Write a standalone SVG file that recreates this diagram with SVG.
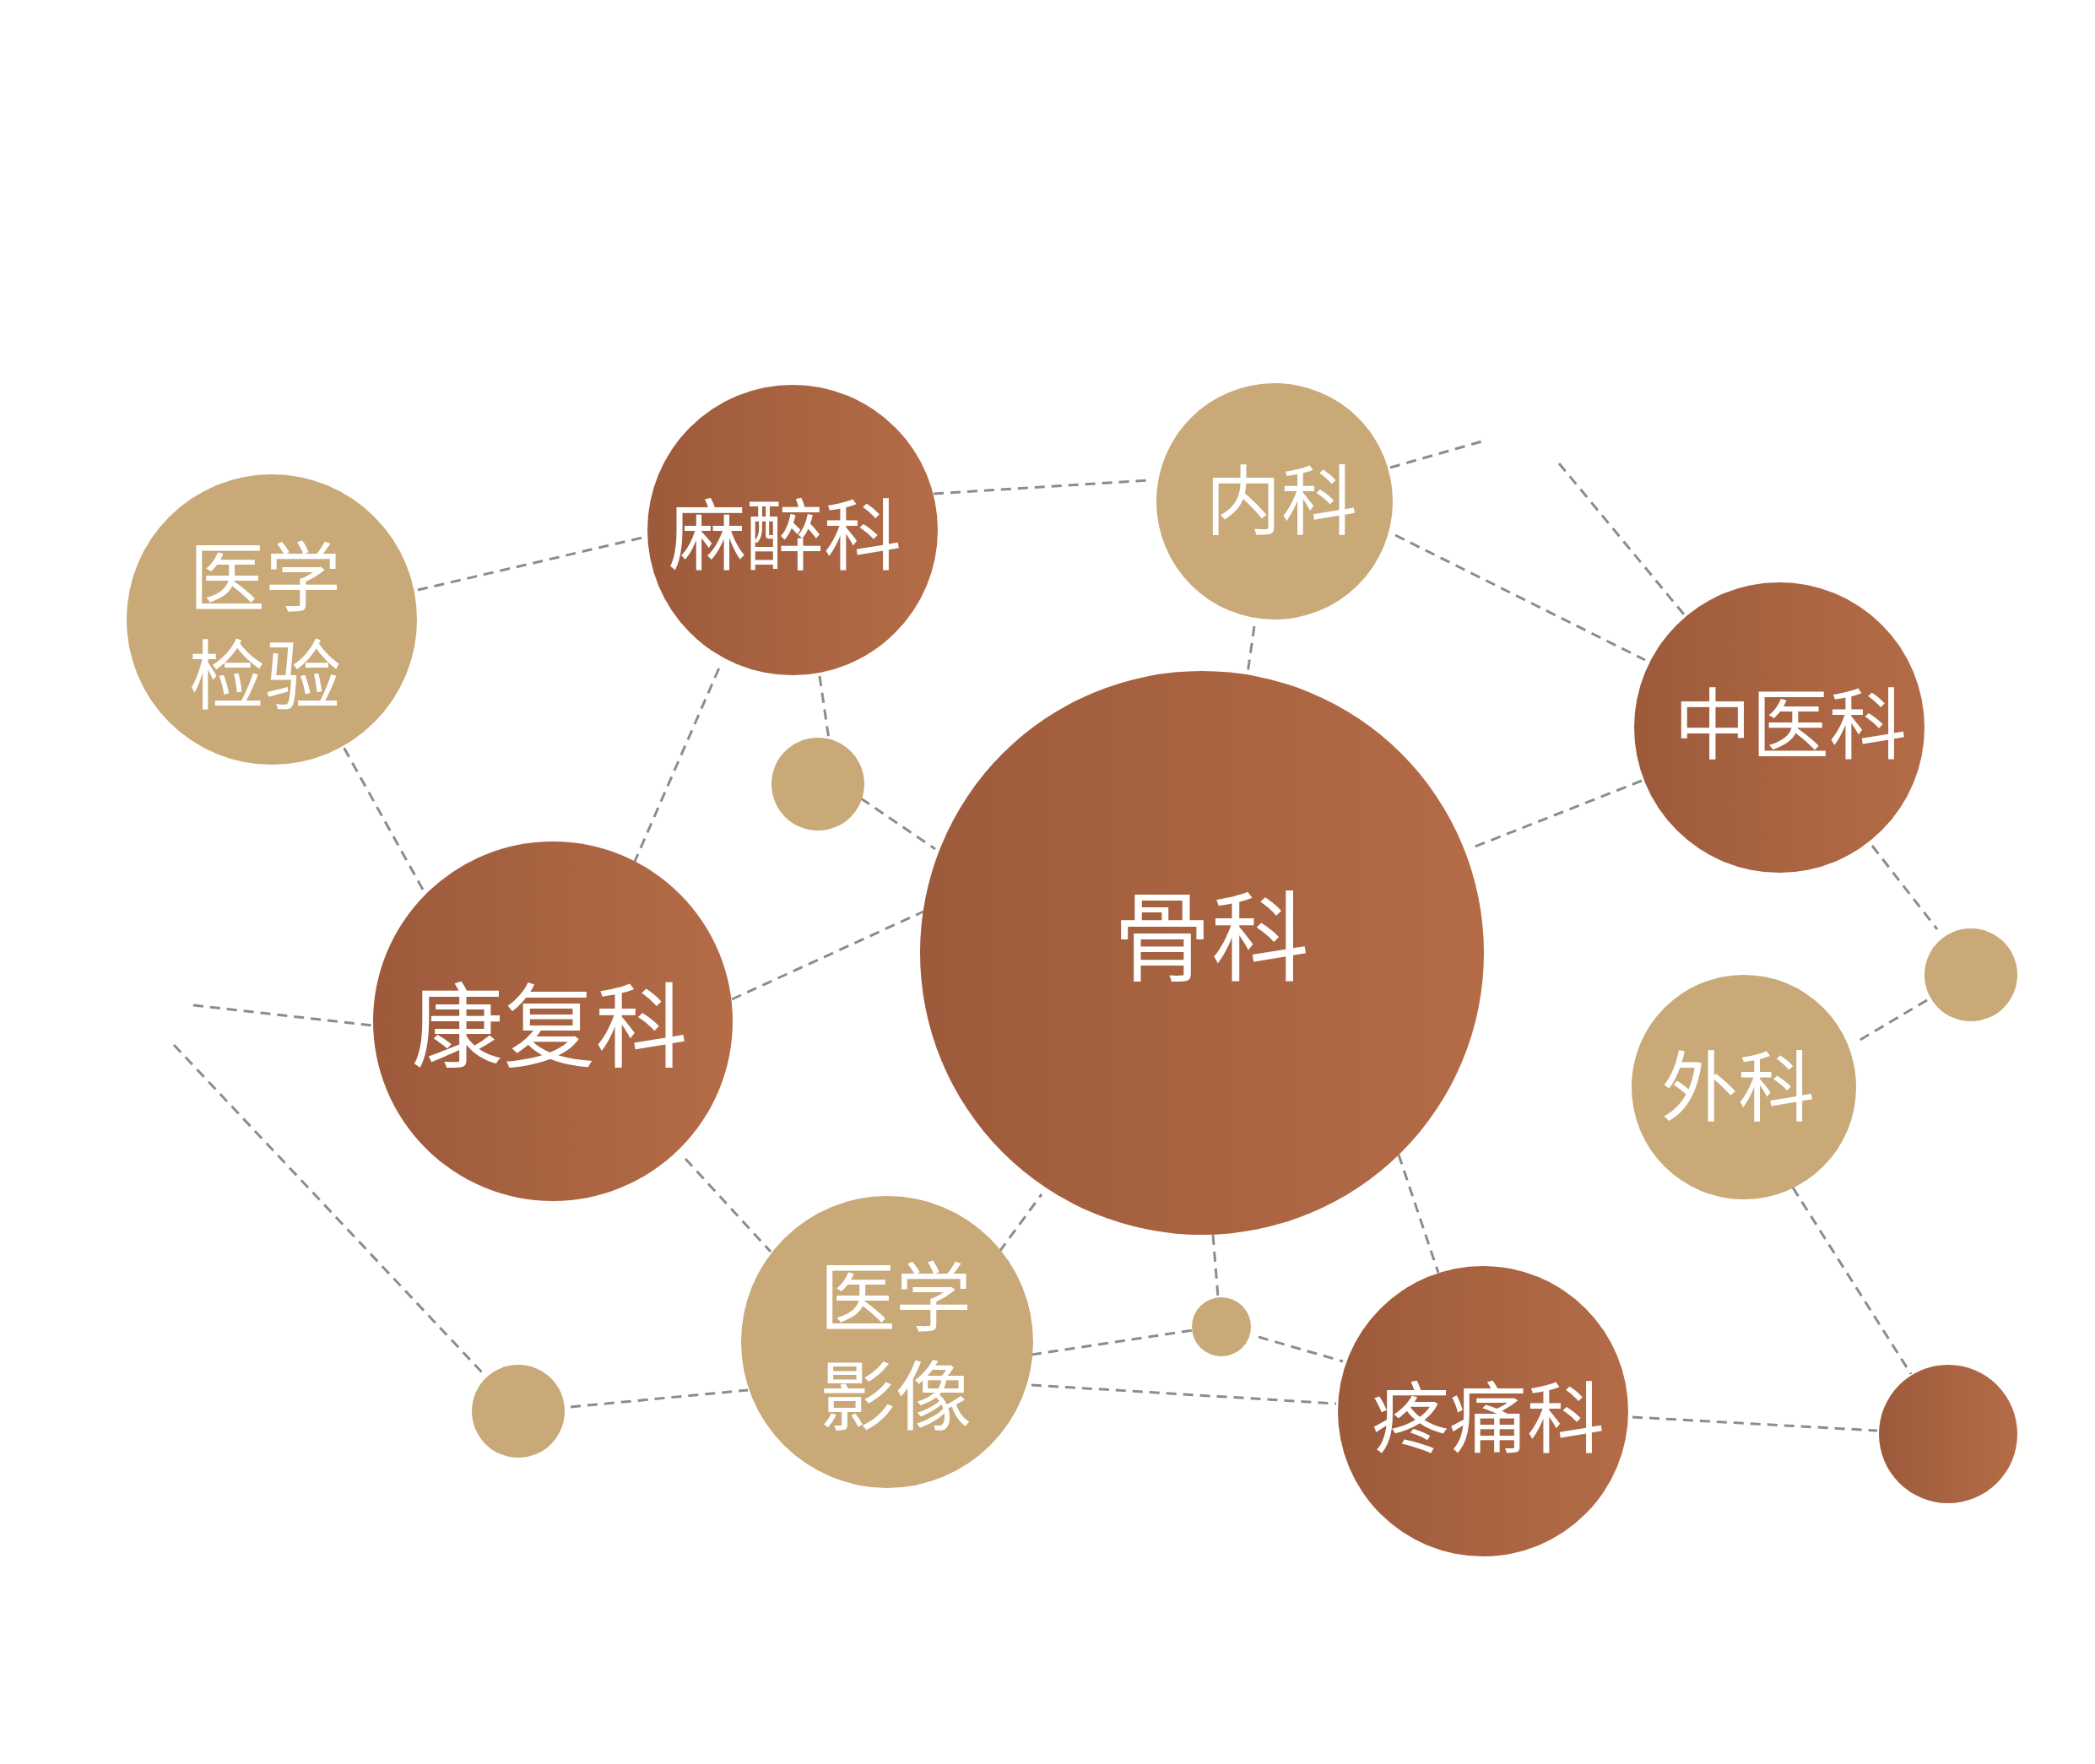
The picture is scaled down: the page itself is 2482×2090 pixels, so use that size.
<svg xmlns="http://www.w3.org/2000/svg" width="2482" height="2090" viewBox="0 0 2482 2090">
<defs>
<linearGradient id="dark" x1="0" y1="0" x2="1" y2="0">
<stop offset="0" stop-color="#9d5a3b"/>
<stop offset="1" stop-color="#b46c47"/>
</linearGradient>
<style>
.ln{stroke:#8c8c8c;stroke-width:3;stroke-dasharray:12 8;fill:none}
.d{fill:url(#dark)}
.t{fill:#c8a977}
text{fill:#ffffff;font-family:"Noto Sans CJK SC","Noto Sans",sans-serif;font-weight:400;text-anchor:middle}
</style>
</defs>
<rect width="2482" height="2090" fill="#ffffff"/>
<g id="connectors">
<line class="ln" x1="495" y1="699" x2="765" y2="636"/>
<line class="ln" x1="1106" y1="585" x2="1360" y2="569"/>
<line class="ln" x1="1647" y1="554" x2="1759" y2="522"/>
<line class="ln" x1="1847" y1="549" x2="1995" y2="728"/>
<line class="ln" x1="1653" y1="634" x2="1949" y2="782"/>
<line class="ln" x1="1486" y1="742" x2="1478" y2="798"/>
<line class="ln" x1="1945" y1="925" x2="1745" y2="1004"/>
<line class="ln" x1="2218" y1="1002" x2="2295" y2="1101"/>
<line class="ln" x1="2283" y1="1185" x2="2197" y2="1236"/>
<line class="ln" x1="2124" y1="1407" x2="2264" y2="1628"/>
<line class="ln" x1="1934" y1="1679" x2="2224" y2="1695"/>
<line class="ln" x1="1657" y1="1368" x2="1704" y2="1508"/>
<line class="ln" x1="1437" y1="1463" x2="1443" y2="1537"/>
<line class="ln" x1="1491" y1="1584" x2="1591" y2="1613"/>
<line class="ln" x1="1222" y1="1605" x2="1413" y2="1576"/>
<line class="ln" x1="1222" y1="1641" x2="1583" y2="1663"/>
<line class="ln" x1="1184" y1="1483" x2="1234" y2="1415"/>
<line class="ln" x1="812" y1="1373" x2="913" y2="1483"/>
<line class="ln" x1="676" y1="1667" x2="886" y2="1647"/>
<line class="ln" x1="206" y1="1238" x2="572" y2="1627"/>
<line class="ln" x1="229" y1="1191" x2="442" y2="1215"/>
<line class="ln" x1="867" y1="1184" x2="1094" y2="1080"/>
<line class="ln" x1="751" y1="1023" x2="853" y2="789"/>
<line class="ln" x1="501" y1="1054" x2="407" y2="885"/>
<line class="ln" x1="971" y1="801" x2="982" y2="876"/>
<line class="ln" x1="1020" y1="946" x2="1108" y2="1006"/>
</g>
<g id="node-yixuejianyan">
<circle class="t" cx="322" cy="734" r="172"/>
<text font-size="90"><tspan x="314" y="717">医学</tspan><tspan x="314" y="833">检验</tspan></text>
</g>
<g id="node-mazuike">
<circle class="d" cx="939" cy="628" r="172"/>
<text x="930" y="668" font-size="92">麻醉科</text>
</g>
<g id="node-neike">
<circle class="t" cx="1510" cy="594" r="140"/>
<text x="1518" y="626" font-size="90">内科</text>
</g>
<g id="node-zhongyike">
<circle class="d" cx="2108" cy="862" r="172"/>
<text x="2121" y="892" font-size="92">中医科</text>
</g>
<g id="node-guke">
<circle class="d" cx="1424" cy="1129" r="334"/>
<text x="1435" y="1153" font-size="116">骨科</text>
</g>
<g id="node-kangfuke">
<circle class="d" cx="655" cy="1210" r="213"/>
<text x="651" y="1256" font-size="109">康复科</text>
</g>
<g id="node-dot1">
<circle class="t" cx="969" cy="929" r="55"/>
</g>
<g id="node-waike">
<circle class="t" cx="2066" cy="1288" r="133"/>
<text x="2059" y="1321" font-size="91">外科</text>
</g>
<g id="node-dot2">
<circle class="t" cx="2335" cy="1155" r="55"/>
</g>
<g id="node-yixueyingxiang">
<circle class="t" cx="1051" cy="1590" r="173"/>
<text font-size="90"><tspan x="1061" y="1570">医学</tspan><tspan x="1061" y="1687">影像</tspan></text>
</g>
<g id="node-dot3">
<circle class="t" cx="614" cy="1672" r="55"/>
</g>
<g id="node-dot4">
<circle class="t" cx="1447" cy="1572" r="35"/>
</g>
<g id="node-tengtongke">
<circle class="d" cx="1757" cy="1672" r="172"/>
<text x="1763" y="1714" font-size="92">疼痛科</text>
</g>
<g id="node-dot5">
<circle class="d" cx="2308" cy="1699" r="82"/>
</g>
</svg>
